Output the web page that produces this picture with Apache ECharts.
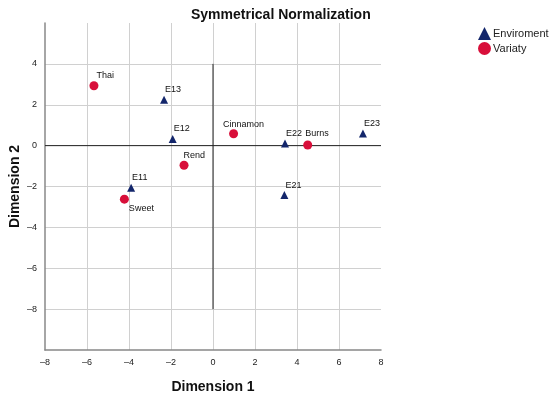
<!DOCTYPE html>
<html><head><meta charset="utf-8">
<script src="https://cdn.jsdelivr.net/npm/echarts@6/dist/echarts.min.js"></script>
<style>html,body{margin:0;padding:0;background:#fff}#c{width:550px;height:398px}</style>
</head><body><div id="c"></div>
<script>
const envNames = ['E11','E12','E13','E21','E22','E23'];
const envX = [-3.90, -1.92, -2.33, 3.40, 3.43, 7.14];
const envY = [-2.06, 0.33, 2.24, -2.42, 0.11, 0.59];
const varNames = ['Thai','Rend','Sweet','Cinnamon','Burns'];
const varX = [-5.67, -1.38, -4.22, 0.98, 4.51];
const varY = [2.93, -0.96, -2.62, 0.58, 0.03];
const xTicks = [-8,-6,-4,-2,0,2,4,6,8];
const yTicks = [4,2,0,-2,-4,-6,-8];

const labelPlace = {
  Thai: {position:'right', offset:[-7,-10]},
  Rend: {position:'right', offset:[-10,-10]},
  Burns: {position:'right', offset:[-12,-11]},
  Sweet: {position:'bottom', offset:[17,-5]},
  Cinnamon: {position:'top', offset:[10,5]}
};
function pts(names, xs, ys){
  return names.map((n,i)=>{
    const p = labelPlace[n] || {position:'right', offset:[-8,-10]};
    return {name:n, value:[xs[i], ys[i]], label:{position:p.position, offset:p.offset}};
  });
}
const fmt = v => (v<0 ? '\u2012'+Math.abs(v) : ''+v);
const chart = echarts.init(document.getElementById('c'));
const FF = 'Arial, Liberation Sans, sans-serif';
const lblStyle = {show:true, formatter:'{b}', color:'#111', fontSize:9, fontFamily:FF};
chart.setOption({
  animation:false,
  title:{text:'Symmetrical Normalization', left:186, top:3,
    textStyle:{fontSize:14, fontWeight:'bold', color:'#111', fontFamily:FF}},
  legend:{left:473, top:22, orient:'vertical', itemWidth:13, itemHeight:13, itemGap:2,
    textStyle:{fontSize:11, color:'#222', fontFamily:FF, padding:[0,0,0,-3]},
    data:[{name:'Enviroment', icon:'triangle'},{name:'Variaty', icon:'circle'}]},
  grid:{left:45, right:169, top:23, bottom:48, containLabel:false, outerBoundsMode:'none'},
  xAxis:{type:'value', min:-8, max:8, interval:2,
    name:'Dimension 1', nameLocation:'middle', nameGap:30, nameMoveOverlap:false,
    nameTextStyle:{fontSize:14, fontWeight:'bold', color:'#111', fontFamily:FF},
    axisLine:{show:true, onZero:false, lineStyle:{color:'#888', width:1.5}}, axisTick:{show:false},
    axisLabel:{fontSize:9, color:'#222', margin:8, fontFamily:FF, formatter:v=> xTicks.includes(v)?fmt(v):''},
    splitLine:{show:true, showMinLine:false, showMaxLine:false, lineStyle:{color:'#d0d0d0'}}},
  yAxis:{type:'value', min:-10, max:6, interval:2,
    name:'Dimension 2', nameLocation:'middle', nameGap:23, nameRotate:90, nameMoveOverlap:false,
    nameTextStyle:{fontSize:14, fontWeight:'bold', color:'#111', fontFamily:FF},
    axisLine:{show:true, onZero:false, lineStyle:{color:'#888', width:1.5}}, axisTick:{show:false},
    axisLabel:{fontSize:9, color:'#222', margin:8, fontFamily:FF, formatter:v=> yTicks.includes(v)?fmt(v):''},
    splitLine:{show:true, showMinLine:false, showMaxLine:false, lineStyle:{color:'#d0d0d0'}}},
  series:[
    {type:'line', data:[[0,4],[0,-8]], symbol:'none', lineStyle:{color:'#222', width:1}, silent:true, z:1},
    {type:'line', data:[[-8,0],[8,0]], symbol:'none', lineStyle:{color:'#222', width:1}, silent:true, z:1},
    {name:'Enviroment', type:'scatter', symbol:'triangle', symbolSize:8,
      itemStyle:{color:'#13266b', opacity:1}, label:lblStyle, data:pts(envNames, envX, envY), z:3},
    {name:'Variaty', type:'scatter', symbol:'circle', symbolSize:9,
      itemStyle:{color:'#d80f3a', opacity:1}, label:lblStyle, data:pts(varNames, varX, varY), z:3}
  ]
});
</script></body></html>
